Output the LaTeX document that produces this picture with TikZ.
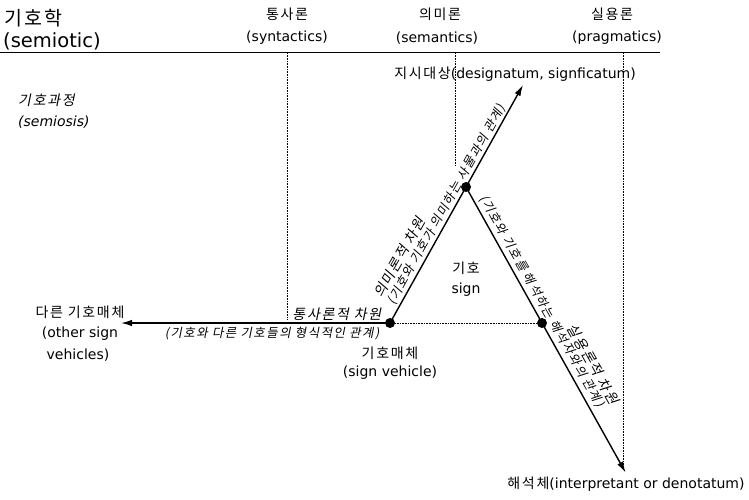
\documentclass[tikz,border=0pt]{standalone}
\usepackage{fontspec}
\setmainfont{DejaVu Sans}
\newfontfamily\kr{Noto Sans CJK KR}[LetterSpace=12,AutoFakeSlant=0.2]
\usetikzlibrary{arrows.meta,calc}
\newcommand{\parsz}{\fontsize{12.4}{15}\selectfont}
\newcommand{\dimsz}{\fontsize{14}{17}\selectfont}
\begin{document}
\begin{tikzpicture}[x=1pt,y=-1pt,
  txt/.style={inner sep=0pt, font=\fontsize{14}{17}\selectfont},
  big/.style={inner sep=0pt, font=\fontsize{19.5}{22}\selectfont},
  itx/.style={inner sep=0pt, font=\fontsize{14}{17}\selectfont\itshape},
  dim/.style={inner sep=2.5pt, font=\dimsz\kr\itshape},
  dimpar/.style={inner sep=2.5pt, font=\parsz\kr\itshape},
  axis/.style={line width=0.7pt},
  guide/.style={line width=0.6pt, densely dotted},
  arr/.style={line width=1.4pt, -{Latex[length=11pt,width=6.5pt]}},
  dot/.style={circle, fill=black, inner sep=0pt, minimum size=10pt}]
\useasboundingbox (0,0) rectangle (749,499);

% header
\node[big, anchor=west] (semiotic1) at (4,18) {\kr 기호학};
\node[big, anchor=west] (semiotic2) at (3,41) {(semiotic)};
\coordinate (axL) at (0,52);
\coordinate (axR) at (660,52);
\draw[axis] (axL) -- (axR);

\node[txt] (syn1) at (287,14) {\kr 통사론};
\node[txt] (syn2) at (287,38) {(syntactics)};
\node[txt] (sem1) at (440,14) {\kr 의미론};
\node[txt] (sem2) at (437,38) {(semantics)};
\node[txt] (prg1) at (612,14) {\kr 실용론};
\node[txt] (prg2) at (617,38) {(pragmatics)};

\node[itx, anchor=west] (semio1) at (18,100) {\kr 기호과정};
\node[itx, anchor=west] (semio2) at (18,122) {(semiosis)};

% triangle vertices
\node[dot] (V) at (390,323) {};
\node[dot] (D) at (466,187) {};
\node[dot] (I) at (542,323) {};

\coordinate (Dend) at ($(V)!1.75!(D)$);
\coordinate (Iend) at ($(D)!2.1!(I)$);
\coordinate (Lend) at (121,323);

% guides
\coordinate (g1t) at (287,53);
\coordinate (g1b) at (287,320);
\coordinate (g2t) at (455,53);
\coordinate (g2b) at (455,166);
\coordinate (g3t) at (623,53);
\coordinate (g3b) at (623,470);
\draw[guide] (g1t) -- (g1b);
\draw[guide] (g2t) -- (g2b);
\draw[guide] (g3t) -- (g3b);

% arrows
\draw[arr] (V.center) -- (Dend);
\draw[arr] (D.center) -- (Iend);
\draw[arr] (V.center) -- (Lend);
\draw[guide] (V) -- (I);

% end labels
\node[txt] (desig) at (515,74) {{\kr 지시대상}(designatum, signficatum)};
\node[txt] (interp) at (626,484) {{\kr 해석체}(interpretant or denotatum)};
\node[txt] (sign1) at (466,268) {\kr 기호};
\node[txt] (sign2) at (466,290) {sign};
\node[txt] (oth1) at (80,312) {\kr 다른 기호매체};
\node[txt] (oth2) at (80,334) {(other sign};
\node[txt] (oth3) at (78,355) {vehicles)};
\node[txt] (sv1) at (390,353) {\kr 기호매체};
\node[txt] (sv2) at (390,373) {(sign vehicle)};

% dimension labels
\node[dim, anchor=south east] (synlab) at ($(V)+(-6,0)$) {통사론적 차원};
\node[dimpar, anchor=north east] (synpar) at ($(V)+(-8,1)$) {(기호와 다른 기호들의 형식적인 관계)};
\node[dimpar, rotate=60.62, anchor=south west, align=left, inner sep=2pt] (semlab) at ($(V)!15pt!(D)$) {{\dimsz 의미론적 차원}\\[-1pt](기호와 기호가 의미하는 사물과의 관계)};
\node[dimpar, rotate=-60.62, anchor=south west, inner sep=3.5pt] (prgpar) at ($(D)!13pt!(I)$) {(기호와 기호를 해석하는 해석자와의 관계)};
\coordinate (P2) at ($(D)!172pt!(I)$);
\node[dim, rotate=-60.62, anchor=south west, inner sep=0pt] (prglab) at ($(P2)!18pt!-90:(I)$) {실용론적 차원};
\end{tikzpicture}
\end{document}
